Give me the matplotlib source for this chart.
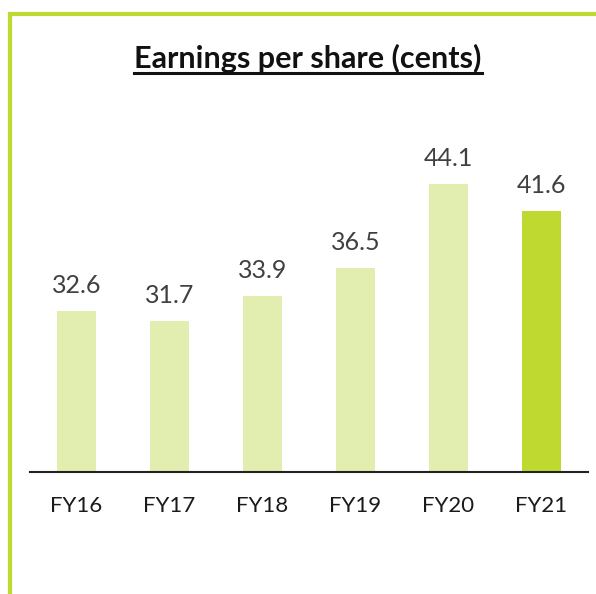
import matplotlib
matplotlib.use("Agg")
import matplotlib.pyplot as plt
from matplotlib.lines import Line2D

# data
years = ["FY16", "FY17", "FY18", "FY19", "FY20", "FY21"]
eps = [32.6, 31.7, 33.9, 36.5, 44.1, 41.6]
labels = ["32.6", "31.7", "33.9", "36.5", "44.1", "41.6"]

light = "#E2EDB0"
lime = "#C0D931"
grey = "#404040"

W, H = 596, 594
fig = plt.figure(figsize=(W / 100, H / 100), dpi=100)
plt.rcParams["font.family"] = ["Lato", "DejaVu Sans"]


def px(x, y):
    # pixel position (from top-left) -> figure fraction
    return x / W, 1 - y / H


# axes: baseline at y=472, x from 30 to 588
x0, y_top = px(30, 130)
x1, y_base = px(588, 472)
ax = fig.add_axes([x0, y_base, x1 - x0, y_top - y_base])

colors = [light] * (len(years) - 1) + [lime]
bars = ax.bar(range(len(years)), eps, width=0.43, color=colors)
ax.set_xlim(-0.5, len(years) - 0.5)
ax.set_ylim(18, 18 + 342 / 11.04)

for b, lab in zip(bars, labels):
    ax.annotate(lab, (b.get_x() + b.get_width() / 2, b.get_height()),
                xytext=(0, 13), textcoords="offset points",
                ha="center", va="baseline", fontsize=18, color=grey)

ax.set_xticks(range(len(years)))
ax.set_xticklabels(years, fontsize=16, color="#1a1a1a")
ax.tick_params(axis="x", length=0, pad=17)
ax.set_yticks([])
for s in ["top", "left", "right"]:
    ax.spines[s].set_visible(False)
ax.spines["bottom"].set_linewidth(1.5)
ax.spines["bottom"].set_color("#222222")

# title with underline
tx, ty = px(308, 68)
title = fig.text(tx, ty, "Earnings per share (cents)", ha="center",
                 va="baseline", fontsize=22, fontweight="bold", color="#111111")
fig.canvas.draw()
bb = title.get_window_extent().transformed(fig.transFigure.inverted())
uy = px(0, 73)[1]
fig.add_artist(Line2D([bb.x0, bb.x1], [uy, uy], transform=fig.transFigure,
                      color="#111111", lw=2.2))

# lime frame: top and left edges
fx, fy = px(10, 14)
fig.add_artist(Line2D([fx, 1], [fy, fy], transform=fig.transFigure,
                      color=lime, lw=3, solid_capstyle="butt"))
fig.add_artist(Line2D([fx, fx], [0, fy], transform=fig.transFigure,
                      color=lime, lw=3, solid_capstyle="projecting"))

fig.savefig("out.png", dpi=100)
